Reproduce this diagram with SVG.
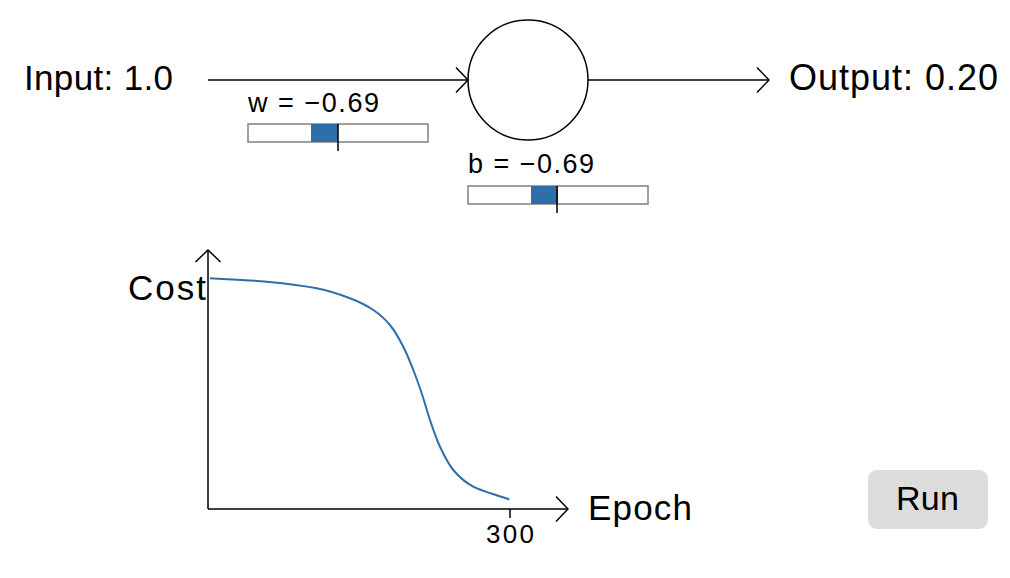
<svg xmlns="http://www.w3.org/2000/svg" width="1010" height="578" viewBox="0 0 1010 578">
<style>
text{font-family:"Liberation Sans",Arial,Helvetica,sans-serif;fill:#000}
.big{font-size:35px}
.mid{font-size:27px}
.small{font-size:26px}
.ln{stroke:#000;stroke-width:1.5;fill:none}
.track{fill:#fff;stroke:#808080;stroke-width:1.5}
.knob{fill:#2e6faa}
</style>
<defs>
<marker id="chev" markerUnits="userSpaceOnUse" viewBox="0 0 14 28" refX="13" refY="14" markerWidth="14" markerHeight="28" orient="auto">
<path d="M1,1.5 L13,14 L1,26.5" fill="none" stroke="#000" stroke-width="1.5"/>
</marker>
</defs>
<rect width="1010" height="578" fill="#fff"/>
<g id="input"><text class="big" x="24" y="90" textLength="149" lengthAdjust="spacing">Input: 1.0</text></g>
<g id="neuron"><circle cx="528" cy="80" r="60" class="ln"/></g>
<g id="output"><text class="big" x="789" y="90" textLength="209" lengthAdjust="spacing" style="font-size:36px">Output: 0.20</text></g>
<g id="connectors">
<line x1="208" y1="80" x2="468" y2="80" class="ln" marker-end="url(#chev)"/>
<line x1="588" y1="80" x2="769" y2="80" class="ln" marker-end="url(#chev)"/>
</g>
<g id="w-slider">
<text class="mid" x="248" y="112" textLength="131" lengthAdjust="spacing">w = −0.69</text>
<rect class="track" x="248" y="124" width="180" height="18"/>
<rect class="knob" x="311" y="124" width="27" height="18"/>
<line x1="338" y1="124" x2="338" y2="151" class="ln"/>
</g>
<g id="b-slider">
<text class="mid" x="468" y="173" textLength="126" lengthAdjust="spacing">b = −0.69</text>
<rect class="track" x="468" y="186" width="180" height="18"/>
<rect class="knob" x="531" y="186" width="27" height="18"/>
<line x1="557" y1="186" x2="557" y2="213" class="ln"/>
</g>
<g id="chart">
<line x1="208" y1="509" x2="208" y2="250" class="ln" marker-end="url(#chev)"/>
<line x1="208" y1="509" x2="568" y2="509" class="ln" marker-end="url(#chev)"/>
<line x1="510" y1="509" x2="510" y2="518" class="ln"/>
<text class="small" x="486" y="543" textLength="48" lengthAdjust="spacing">300</text>
<text class="big" x="128" y="300" textLength="78" lengthAdjust="spacing">Cost</text>
<text class="big" x="588" y="520" textLength="104" lengthAdjust="spacing">Epoch</text>
<path d="M210,278.3 C219.5,278.9 248.9,280 266.7,281.7 C284.5,283.4 302.8,285.5 316.7,288.3 C330.6,291.1 340.6,294.7 350,298.3 C359.4,301.9 366.6,305.6 373.3,310 C380,314.5 385,318.9 390,325 C395,331.1 399.4,339.2 403.3,346.7 C407.2,354.2 410.2,362.2 413.3,370 C416.4,377.8 418.9,385 421.7,393.3 C424.5,401.6 427,411.1 430,420 C433,428.9 436.1,438.4 440,446.7 C443.9,455 447.8,463.3 453.3,470 C458.9,476.7 464,481.8 473.3,486.7 C482.6,491.6 503.3,497.2 509.3,499.3" fill="none" stroke="#2e6faa" stroke-width="2"/>
</g>
<g id="run-button">
<rect x="868" y="470" width="120" height="59" rx="9" fill="#dcdcdc"/>
<text class="big" x="896" y="510" textLength="63" lengthAdjust="spacing" style="font-size:34px">Run</text>
</g>
</svg>
